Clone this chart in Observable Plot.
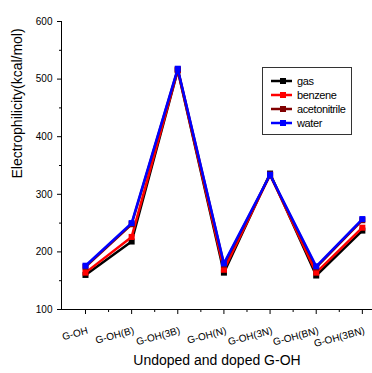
<!DOCTYPE html>
<html>
<head>
<meta charset="utf-8">
<script src="https://cdn.jsdelivr.net/npm/d3@7"></script>
<script src="https://cdn.jsdelivr.net/npm/@observablehq/plot@0.6"></script>
<style>
  html, body { margin: 0; padding: 0; background: #fff; }
  #chart { width: 372px; height: 373px; }
</style>
</head>
<body>
<div id="chart"></div>
<script>
// Electrophilicity (kcal/mol) of undoped and doped G-OH in four media
const categories = ["G-OH", "G-OH(B)", "G-OH(3B)", "G-OH(N)", "G-OH(3N)", "G-OH(BN)", "G-OH(3BN)"];
const gas          = [160, 218, 515, 164, 336, 159, 237];
const benzene      = [164, 226, 516, 169, 334, 164, 242];
const acetonitrile = [174, 248, 517, 178, 333, 173, 255];
const water        = [176, 250, 518, 180, 334, 175, 257];

const seriesNames  = ["gas", "benzene", "acetonitrile", "water"];
const seriesColors = ["#000000", "#ff0000", "#800000", "#0000ff"];
const seriesValues = [gas, benzene, acetonitrile, water];

const yTicks = [100, 200, 300, 400, 500, 600];
const yMinorTicks = [150, 250, 350, 450, 550];
const xDomain = [-0.52, 6.22];

const rows = seriesNames.flatMap((name, s) =>
  seriesValues[s].map((v, i) => ({series: name, i, cat: categories[i], value: v}))
);

const seriesMarks = seriesNames.flatMap((name, s) => {
  const data = rows.filter(d => d.series === name);
  return [
    Plot.line(data, {x: "i", y: "value", stroke: seriesColors[s], strokeWidth: 2.5}),
    Plot.dot(data, {x: "i", y: "value", fill: seriesColors[s], symbol: "square", r: 3.4})
  ];
});

const chart = Plot.plot({
  width: 372,
  height: 373,
  marginLeft: 61,
  marginRight: 0,
  marginTop: 21,
  marginBottom: 64,
  style: {fontFamily: "'Liberation Sans', Arial, sans-serif", background: "#fff", color: "#000"},
  x: {type: "linear", domain: xDomain, axis: null},
  y: {domain: [100, 600], axis: null},
  marks: [
    // axis lines
    Plot.ruleX([xDomain[0]], {stroke: "#000", strokeWidth: 1}),
    Plot.ruleY([100], {stroke: "#000", strokeWidth: 1}),
    // y axis ticks and labels
    Plot.axisY({ticks: yTicks, tickSize: 4, tickPadding: 5, fontSize: 10, tickFormat: d => d, label: null}),
    Plot.axisY({ticks: yMinorTicks, tickSize: 2, tickFormat: () => "", label: null}),
    // x axis ticks
    Plot.axisX({ticks: d3.range(categories.length), tickSize: 5, tickFormat: () => "", label: null}),
    Plot.axisX({ticks: d3.range(0.5, categories.length - 1, 1), tickSize: 3, tickFormat: () => "", label: null}),
    // slanted category labels
    Plot.text(categories, {
      x: (d, i) => i, text: d => d, frameAnchor: "bottom",
      dx: 3, dy: 24, rotate: -15, textAnchor: "end", fontSize: 10, fill: "#000"
    }),
    // axis titles
    Plot.text(["Electrophilicity(kcal/mol)"], {
      frameAnchor: "left", dx: -44, dy: 13, rotate: -90, fontSize: 14, fill: "#000"
    }),
    Plot.text(["Undoped and doped G-OH"], {
      frameAnchor: "bottom", dy: 55, fontSize: 14, fill: "#000"
    }),
    ...seriesMarks
  ]
});

document.getElementById("chart").appendChild(chart);

// legend box in the upper right of the plot area
const svg = d3.select(chart);
const legend = svg.append("g").attr("transform", "translate(262,67)")
  .attr("font-family", "'Liberation Sans', Arial, sans-serif").attr("font-size", 11)
  .attr("text-anchor", "start");
legend.append("rect").attr("x", 0.5).attr("y", 0.5).attr("width", 89).attr("height", 67)
  .attr("fill", "#fff").attr("stroke", "#333").attr("stroke-width", 1);
seriesNames.forEach((name, s) => {
  const y = 14 + s * 14;
  const g = legend.append("g").attr("transform", `translate(0,${y})`);
  g.append("line").attr("x1", 9).attr("x2", 30).attr("y1", 0).attr("y2", 0)
    .attr("stroke", seriesColors[s]).attr("stroke-width", 2.5);
  g.append("rect").attr("x", 18).attr("y", -3).attr("width", 6).attr("height", 6)
    .attr("fill", seriesColors[s]);
  g.append("text").attr("x", 35).attr("y", 0).attr("dy", "0.35em").attr("fill", "#000")
    .attr("text-anchor", "start").attr("letter-spacing", "-0.4")
    .text(name);
});
</script>
</body>
</html>
